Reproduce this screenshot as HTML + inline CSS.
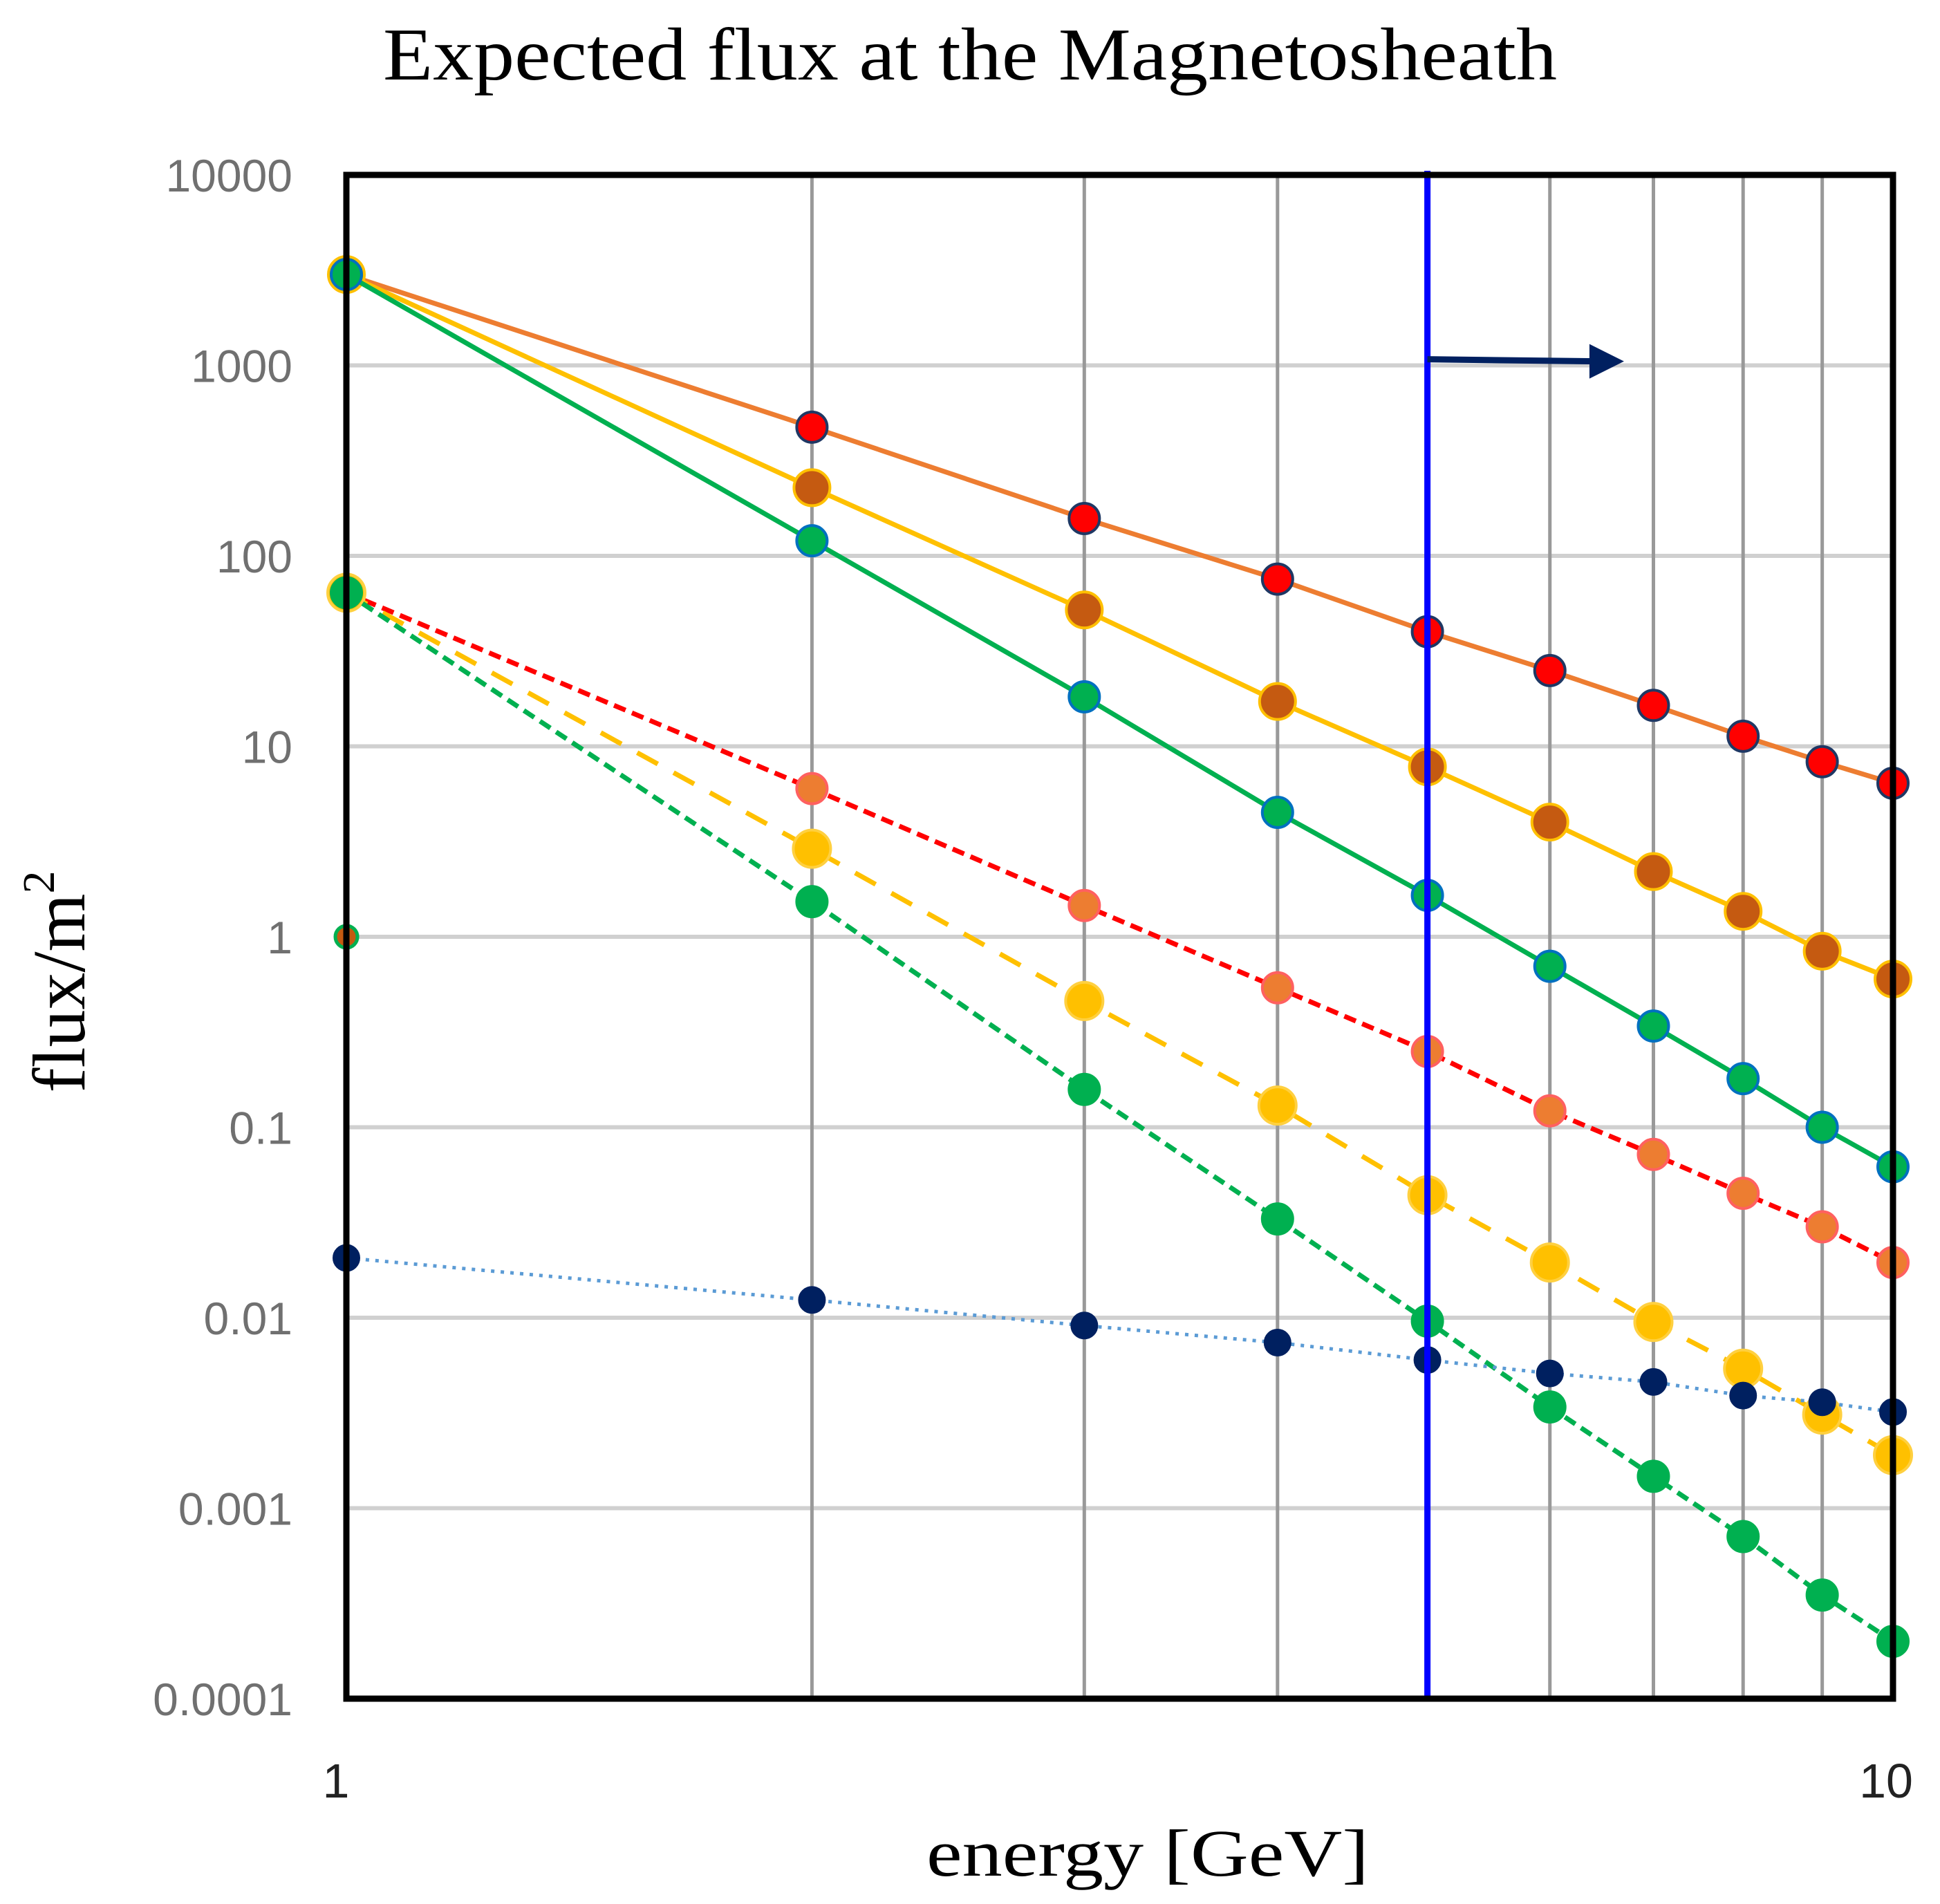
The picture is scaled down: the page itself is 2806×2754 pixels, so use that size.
<!DOCTYPE html>
<html><head><meta charset="utf-8"><style>html,body{margin:0;padding:0;background:#fff}svg{display:block}</style></head>
<body>
<svg id="chart" width="2806" height="2754" viewBox="0 0 2806 2754" xmlns="http://www.w3.org/2000/svg">
<rect width="2806" height="2754" fill="#fff"/>
<text x="554" y="115" font-family="Liberation Serif, serif" font-size="108" textLength="1698" lengthAdjust="spacingAndGlyphs" fill="#000">Expected flux at the Magnetosheath</text>
<text transform="translate(122,1420) rotate(-90)" text-anchor="middle" font-family="Liberation Serif, serif" font-size="108" fill="#000">flux/m<tspan font-size="66" dy="-44">2</tspan></text>
<text x="1340" y="2713" font-family="Liberation Serif, serif" font-size="96" textLength="640" lengthAdjust="spacingAndGlyphs" fill="#000">energy [GeV]</text>
<g id="grid"></g>
<g id="series"></g>
<g id="frame"></g>
</svg>
<script>
const energies = [1,2,3,4,5,6,7,8,9,10];
const fluxSolid1 = [3000,474,157,75.5,40,25,16.4,11.3,8.3,6.4];
const fluxSolid2 = [3000,228,52,17.2,7.8,4.0,2.2,1.36,0.84,0.6];
const fluxSolid3 = [3000,120,18.2,4.5,1.65,0.7,0.34,0.18,0.1,0.062];
const fluxDash1 = [64,6.0,1.46,0.54,0.25,0.122,0.072,0.045,0.030,0.0195];
const fluxDash2 = [64,2.9,0.46,0.13,0.044,0.0195,0.0095,0.0054,0.0031,0.0019];
const fluxDash3 = [64,1.53,0.158,0.033,0.0096,0.0034,0.00147,0.00071,0.00035,0.0002];
const fluxDotted = [0.0206,0.0124,0.0091,0.0074,0.006,0.0051,0.0046,0.0039,0.0036,0.0032];
const yTicks = [10000,1000,100,10,1,0.1,0.01,0.001,0.0001];
const yTickLabels = ["10000","1000","100","10","1","0.1","0.01","0.001","0.0001"];
const xTicks = [1,10];
const xTickLabels = ["1","10"];
const xGrid = [2,3,4,6,7,8,9];
const cutoffEnergy = 5;
const arrowEnd = [6.7, 1050];
const extraPoint = [1, 1];

const L=501,R=2738,T=253,B=2457;
const X=v=>L+Math.log10(v)*(R-L);
const Y=v=>T+(4-Math.log10(v))*(B-T)/8;
const NS='http://www.w3.org/2000/svg';
function mk(parent,tag,attrs){const e=document.createElementNS(NS,tag);for(const k in attrs)e.setAttribute(k,attrs[k]);parent.appendChild(e);return e;}
const grid=document.getElementById('grid'),ser=document.getElementById('series'),frame=document.getElementById('frame'),svg=document.getElementById('chart');

yTicks.forEach((v,i)=>{
  const l=mk(grid,'line',{x1:L,x2:R,y1:Y(v),y2:Y(v),stroke:'#d0d0d0','stroke-width':6});
  
  
  const t=mk(svg,'text',{x:423,y:Y(v)+24,'text-anchor':'end','font-family':'Liberation Sans, sans-serif','font-size':66,fill:'#707070'});
  t.textContent=yTickLabels[i];
  
  
});
xGrid.forEach(v=>{
  const l=mk(grid,'line',{x1:X(v),x2:X(v),y1:T,y2:B,stroke:'#999','stroke-width':5});
  
  
});
xTicks.forEach((v,i)=>{
  const t=mk(svg,'text',{x:X(v)-(i?10:15),y:2600,'text-anchor':'middle','font-family':'Liberation Sans, sans-serif','font-size':70,fill:'#222'});
  t.textContent=xTickLabels[i];
  
  
});

const defs=[
 {d:fluxSolid1,line:'#ed7d31',mk:'#ff0000',st:'#1f3864',r:22,dash:null,name:'series-solid-1'},
 {d:fluxSolid2,line:'#ffc000',mk:'#c55a11',st:'#ffc000',r:26,dash:null,name:'series-solid-2'},
 {d:fluxSolid3,line:'#00b050',mk:'#00b050',st:'#0070c0',r:22,dash:null,name:'series-solid-3'},
 {d:fluxDash1,line:'#ff0000',mk:'#ed7d31',st:'#ff6060',r:22,dash:'18 10',name:'series-dashed-1'},
 {d:fluxDash2,line:'#ffc000',mk:'#ffc000',st:'#ffd040',r:27,dash:'34 26',name:'series-dashed-2'},
 {d:fluxDash3,line:'#00b050',mk:'#00b050',st:'#00b050',r:22,dash:'18 10',name:'series-dashed-3'},
 {d:fluxDotted,line:'#5b9bd5',mk:'#002060',st:'#002060',r:18,dash:'5 9',name:'series-dotted'}
];
defs.forEach(s=>{
  const g=mk(ser,'g',{});
  
  
  const pts=energies.map((e,i)=>X(e)+','+Y(s.d[i])).join(' ');
  const a={points:pts,fill:'none',stroke:s.line,'stroke-width':s.dash&&s.dash.startsWith('5')?5:7};
  if(s.dash)a['stroke-dasharray']=s.dash;
  const pl=mk(g,'polyline',a);
  
  
  energies.forEach((e,i)=>{
    const c=mk(g,'circle',{cx:X(e),cy:Y(s.d[i]),r:s.r,fill:s.mk,stroke:s.st,'stroke-width':4});
    
    
  });
});
const ex=mk(ser,'circle',{cx:X(extraPoint[0]),cy:Y(extraPoint[1]),r:16,fill:'#c55a11',stroke:'#00b050','stroke-width':5});



const bl=mk(frame,'line',{x1:X(cutoffEnergy),x2:X(cutoffEnergy),y1:T-6,y2:B,stroke:'#0000ff','stroke-width':9});


const ax=X(arrowEnd[0]),ay=Y(arrowEnd[1]);
const ar=mk(frame,'line',{x1:X(cutoffEnergy),x2:ax-40,y1:ay-3,y2:ay,stroke:'#002060','stroke-width':9});


const ah=mk(frame,'polygon',{points:`${ax},${ay} ${ax-50},${ay-25} ${ax-50},${ay+25}`,fill:'#002060'});


const fr=mk(frame,'rect',{x:L,y:T,width:R-L,height:B-T,fill:'none',stroke:'#000','stroke-width':9});


</script>
</body></html>
